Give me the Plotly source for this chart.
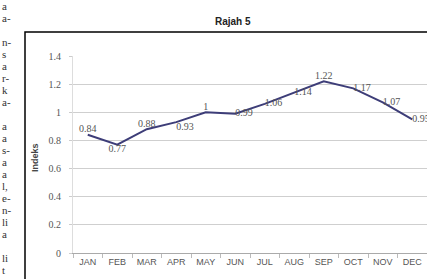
import plotly.graph_objects as go

months = ["JAN", "FEB", "MAR", "APR", "MAY", "JUN", "JUL", "AUG", "SEP", "OCT", "NOV", "DEC"]
indeks = [0.84, 0.77, 0.88, 0.93, 1.00, 0.99, 1.06, 1.14, 1.22, 1.17, 1.07, 0.95]
value_labels = ["0.84", "0.77", "0.88", "0.93", "1", "0.99", "1.06", "1.14", "1.22", "1.17", "1.07", "0.95"]
y_ticks = [0, 0.2, 0.4, 0.6, 0.8, 1.0, 1.2, 1.4]
y_tick_labels = ["0", "0.2", "0.4", "0.6", "0.8", "1", "1.2", "1.4"]
title_text = "Rajah 5"
y_title = "Indeks"
side_text = ["a", "a-", "", "n-", "s", "a", "r-", "k", "a-", "", "a", "a", "s-", "a", "a",
             "l,", "e-", "n-", "li", "a", "", "li", "t"]

label_pos = ["top center", "bottom center", "top center", "bottom right", "top center",
             "middle right", "middle right", "middle right", "top center", "middle right",
             "middle right", "middle right"]

W, H = 427, 279
ML, MR, MT, MB = 73, 0, 56, 26
PW, PH = W - ML - MR, H - MT - MB


def px(x):
    return (x - ML) / PW


def py(y):
    return (H - MB - y) / PH


fig = go.Figure()
fig.add_trace(go.Scatter(
    x=months, y=indeks, mode="lines+text",
    text=value_labels, textposition=label_pos,
    textfont=dict(family="Liberation Serif", size=10, color="#555555"),
    line=dict(color="#3d3d78", width=2),
    cliponaxis=False, hoverinfo="skip", showlegend=False,
))

annotations = [
    dict(text="<b>" + title_text + "</b>", x=px(233), y=py(21), xref="paper", yref="paper",
         showarrow=False, font=dict(family="Liberation Sans", size=10, color="#222222"),
         xanchor="center", yanchor="middle"),
    dict(text="<b>" + y_title + "</b>", x=px(35), y=py(158), xref="paper", yref="paper",
         showarrow=False, textangle=-90, font=dict(family="Liberation Sans", size=9, color="#444444"),
         xanchor="center", yanchor="middle"),
]
for i, t in enumerate(side_text):
    if not t:
        continue
    annotations.append(dict(text=t, x=px(0), y=py(6 + 12 * i), xref="paper", yref="paper",
                            showarrow=False, xanchor="left", yanchor="middle",
                            font=dict(family="Liberation Serif", size=11, color="#333333")))

fig.update_layout(
    width=W, height=H,
    margin=dict(l=ML, r=MR, t=MT, b=MB),
    paper_bgcolor="white", plot_bgcolor="white",
    annotations=annotations,
    shapes=[dict(type="rect", xref="paper", yref="paper",
                 x0=px(25), x1=1.2, y0=-0.5, y1=py(32),
                 line=dict(color="black", width=1.5), layer="below")],
    xaxis=dict(
        type="category", range=[-0.5, 11.5], tickson="boundaries",
        ticks="outside", ticklen=4, tickcolor="#bbbbbb",
        showgrid=False, showline=True, linecolor="#aaaaaa", linewidth=1,
        tickfont=dict(family="Liberation Sans", size=9, color="#555555"),
        fixedrange=True,
    ),
    yaxis=dict(
        range=[0, 1.4], tickvals=y_ticks, ticktext=y_tick_labels,
        ticks="outside", ticklen=3, tickcolor="#cccccc",
        showgrid=True, gridcolor="#cfcfcf", gridwidth=1,
        showline=True, linecolor="#dddddd", zeroline=False,
        ticklabelstandoff=6,
        tickfont=dict(family="Liberation Serif", size=10, color="#555555"),
        fixedrange=True,
    ),
)

fig.write_html(
    "out.html",
    config={"displayModeBar": False},
    post_script="document.body.style.margin='0';document.body.style.overflow='hidden';",
)
